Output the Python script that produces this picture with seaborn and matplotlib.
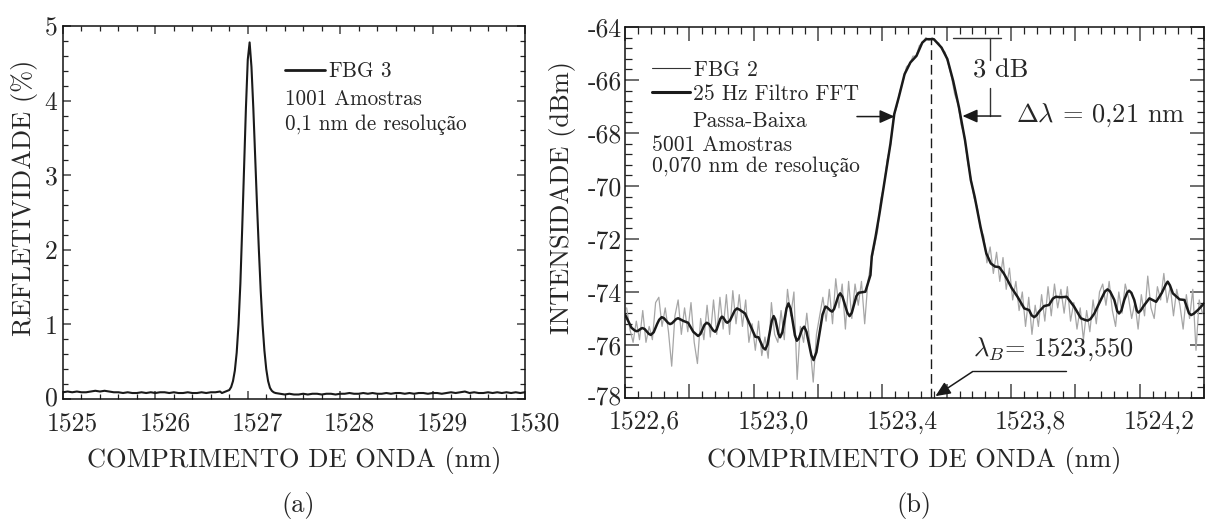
import numpy as np
import matplotlib
matplotlib.use("Agg")
import matplotlib.pyplot as plt
import matplotlib.transforms as mtransforms
from matplotlib.lines import Line2D
from matplotlib.ticker import MultipleLocator
import seaborn as sns

# --- (a) FBG 3: refletividade (%) ---
base_esq = [0.09, 0.10, 0.09, 0.10, 0.09, 0.09, 0.10, 0.11, 0.10, 0.11,
            0.10, 0.09, 0.09, 0.08, 0.09, 0.08, 0.08, 0.09, 0.08, 0.09,
            0.08, 0.09, 0.09, 0.08, 0.09, 0.08, 0.08, 0.09, 0.08, 0.08,
            0.09, 0.08, 0.09, 0.09, 0.10]
pico = [0.08, 0.09, 0.10, 0.11, 0.12, 0.16, 0.24, 0.38, 0.62, 1.00,
        1.55, 2.30, 3.10, 3.90, 4.55, 4.78, 4.45, 3.90, 3.25, 2.60,
        2.00, 1.45, 1.00, 0.65, 0.40, 0.24, 0.15, 0.11, 0.09, 0.08]
base_dir = [0.07, 0.06, 0.07, 0.06, 0.06, 0.07, 0.06, 0.07, 0.07, 0.06,
            0.07, 0.07, 0.06, 0.07, 0.07, 0.08, 0.07, 0.07, 0.08, 0.07,
            0.08, 0.07, 0.07, 0.08, 0.07, 0.08, 0.08, 0.07, 0.08, 0.07,
            0.08, 0.08, 0.07, 0.08, 0.08, 0.07, 0.08, 0.09, 0.08, 0.09,
            0.10, 0.08, 0.09, 0.08, 0.08, 0.09, 0.08, 0.09, 0.08, 0.09,
            0.08, 0.09, 0.08, 0.09]

refl_x = np.concatenate([np.linspace(1525.00, 1526.70, len(base_esq)),
                         np.linspace(1526.72, 1527.30, len(pico)),
                         np.linspace(1527.35, 1530.00, len(base_dir))])
refl_y = np.array(base_esq + pico + base_dir)

# --- (b) FBG 2: intensidade (dBm), sinal bruto ---
fbg2_bruto = [-74.6, -75.4, -75.9, -75.1, -75.8, -74.7, -75.9, -75.3, -75.8, -74.4,
              -74.2, -75.3, -74.6, -75.5, -76.8, -74.9, -74.3, -75.6, -74.6, -75.5,
              -74.4, -75.9, -76.7, -75.0, -75.8, -74.5, -75.7, -74.3, -75.6, -74.2,
              -75.4, -74.1, -75.6, -73.95, -75.2, -74.1, -75.3, -74.3, -75.9, -75.2,
              -76.2, -75.1, -76.4, -75.7, -76.5, -74.4, -75.6, -75.9, -74.7, -75.8,
              -73.9, -74.9, -74.0, -77.3, -75.3, -75.9, -74.8, -76.0, -77.4, -75.6,
              -74.9, -74.2, -75.1, -73.9, -75.2, -73.5, -74.6, -73.7, -75.4, -73.6,
              -75.0, -73.7, -74.5, -73.6, -75.2, -73.6, -72.9,
              -72.3, -71.7, -70.5, -70.0, -69.0, -68.5, -67.4, -67.0, -66.4, -66.0,
              -65.5, -65.4, -65.1, -65.1, -64.7, -64.6, -64.4, -64.5, -64.4, -64.55,
              -64.6, -64.85, -64.95, -65.4, -65.9, -66.55, -66.9, -67.7, -68.1, -69.1,
              -69.7, -70.45, -70.8, -71.6,
              -71.9, -72.9, -72.3, -73.3, -72.5, -73.6, -72.7, -73.9, -73.1, -74.3,
              -73.6, -74.7, -74.0, -75.3, -74.2, -75.6, -74.5, -75.3, -74.1, -75.1,
              -73.8, -74.9, -73.7, -74.6, -73.9, -74.8, -73.8, -75.1, -74.4, -75.4,
              -74.6, -75.8, -74.7, -75.5, -74.3, -75.2, -74.0, -73.7, -74.5, -73.6,
              -74.7, -75.3, -74.0, -74.8, -73.7, -74.2, -75.0, -74.4, -75.4, -74.1,
              -74.9, -73.4, -74.6, -75.0, -73.8, -74.3, -73.3, -74.4, -73.8, -74.9,
              -73.9, -74.5, -75.4, -74.1, -75.0, -73.9, -76.2, -74.3, -74.8]
fbg2_x = np.linspace(1522.605, 1524.395, len(fbg2_bruto))

# --- (b) filtro FFT passa-baixa 25 Hz: (comprimento de onda, dBm) ---
filtro_pts = [
    (1522.600, -74.85), (1522.620, -75.35), (1522.630, -75.45), (1522.636, -75.48),
    (1522.641, -75.46), (1522.650, -75.38), (1522.654, -75.36), (1522.661, -75.40),
    (1522.674, -75.58), (1522.680, -75.62), (1522.689, -75.52), (1522.700, -75.20),
    (1522.706, -75.05), (1522.714, -74.95), (1522.721, -74.99), (1522.734, -75.17),
    (1522.740, -75.21), (1522.746, -75.18), (1522.759, -75.02), (1522.765, -74.99),
    (1522.781, -75.09), (1522.796, -75.16), (1522.812, -75.50), (1522.827, -75.66),
    (1522.834, -75.59), (1522.847, -75.24), (1522.854, -75.16), (1522.861, -75.21),
    (1522.874, -75.45), (1522.880, -75.50), (1522.885, -75.41), (1522.896, -75.02),
    (1522.901, -74.93), (1522.905, -74.96), (1522.914, -75.13), (1522.918, -75.16),
    (1522.926, -75.08), (1522.941, -74.70), (1522.948, -74.62), (1522.955, -74.66),
    (1522.973, -74.81), (1523.005, -75.69), (1523.015, -75.71), (1523.029, -76.10),
    (1523.036, -76.17), (1523.043, -75.98), (1523.056, -75.10), (1523.062, -74.91),
    (1523.067, -75.03), (1523.077, -75.59), (1523.082, -75.71), (1523.089, -75.52),
    (1523.102, -74.62), (1523.108, -74.43), (1523.115, -74.64), (1523.128, -75.63),
    (1523.134, -75.84), (1523.140, -75.76), (1523.151, -75.39), (1523.157, -75.31),
    (1523.164, -75.50), (1523.179, -76.38), (1523.186, -76.57), (1523.195, -76.27),
    (1523.214, -74.85), (1523.223, -74.55), (1523.228, -74.58), (1523.239, -74.71),
    (1523.244, -74.74), (1523.250, -74.64), (1523.263, -74.15), (1523.269, -74.05),
    (1523.276, -74.18), (1523.291, -74.78), (1523.298, -74.91), (1523.305, -74.78),
    (1523.319, -74.16), (1523.326, -74.03), (1523.347, -73.99), (1523.363, -73.36),
    (1523.367, -72.66), (1523.379, -71.90), (1523.391, -71.04), (1523.409, -69.66),
    (1523.425, -68.41), (1523.437, -67.28), (1523.451, -66.65), (1523.469, -65.78),
    (1523.487, -65.34), (1523.506, -65.09), (1523.524, -64.59), (1523.536, -64.46),
    (1523.560, -64.46), (1523.584, -64.78), (1523.602, -65.21), (1523.620, -66.03),
    (1523.638, -67.03), (1523.657, -68.28), (1523.675, -69.78), (1523.687, -70.41),
    (1523.705, -71.54), (1523.723, -72.54), (1523.737, -72.92), (1523.750, -73.04),
    (1523.763, -73.06), (1523.777, -73.29), (1523.789, -73.55), (1523.802, -73.85),
    (1523.820, -74.18), (1523.841, -74.62), (1523.856, -74.68), (1523.864, -74.88),
    (1523.872, -74.95), (1523.880, -74.87), (1523.887, -74.74), (1523.903, -74.53),
    (1523.918, -74.49), (1523.930, -74.25), (1523.939, -74.18), (1523.955, -74.20),
    (1523.973, -74.18), (1523.996, -74.55), (1524.017, -74.99), (1524.029, -75.05),
    (1524.038, -75.08), (1524.047, -75.02), (1524.059, -74.81), (1524.079, -74.30),
    (1524.092, -73.98), (1524.100, -73.90), (1524.108, -73.98), (1524.121, -74.30),
    (1524.130, -74.72), (1524.136, -74.81), (1524.143, -74.70), (1524.152, -74.30),
    (1524.161, -74.02), (1524.167, -73.95), (1524.174, -74.03), (1524.183, -74.30),
    (1524.191, -74.70), (1524.196, -74.78), (1524.203, -74.70), (1524.212, -74.53),
    (1524.230, -74.24), (1524.251, -74.37), (1524.268, -74.05), (1524.281, -73.72),
    (1524.287, -73.61), (1524.294, -73.75), (1524.303, -74.05), (1524.324, -74.28),
    (1524.339, -74.30), (1524.353, -74.80), (1524.360, -74.87), (1524.368, -74.82),
    (1524.381, -74.68), (1524.400, -74.43),
]
filtro_x = [p[0] for p in filtro_pts]
filtro_y = [p[1] for p in filtro_pts]

xticks_a = [1525, 1526, 1527, 1528, 1529, 1530]
xlabels_a = ["1525", "1526", "1527", "1528", "1529", "1530"]
yticks_a = [0, 1, 2, 3, 4, 5]
xticks_b = [1522.6, 1522.8, 1523.0, 1523.2, 1523.4, 1523.6, 1523.8, 1524.0, 1524.2, 1524.4]
xlabels_b = ["1522,6", "", "1523,0", "", "1523,4", "", "1523,8", "", "1524,2", ""]
yticks_b = [-78, -76, -74, -72, -70, -68, -66, -64]
lambda_b = 1523.55

sns.set_style("ticks")
plt.rcParams["font.family"] = ["cmr10", "STIXGeneral", "DejaVu Serif"]
plt.rcParams["mathtext.fontset"] = "cm"
plt.rcParams["axes.unicode_minus"] = False
plt.rcParams["axes.linewidth"] = 1.1
plt.rcParams["axes.edgecolor"] = "#111111"

TICK_FS = 18.5
LAB_FS = 19
LEG_FS_A = 15.2
LEG_FS_B = 15.5

fig = plt.figure(figsize=(12.09, 5.21), dpi=100)
ax1 = fig.add_axes([0.0521, 0.2342, 0.3821, 0.7159])
ax2 = fig.add_axes([0.5170, 0.2361, 0.4789, 0.7121])

# --- painel (a) ---
sns.lineplot(x=refl_x, y=refl_y, ax=ax1, color="#1a1a1a", linewidth=1.5,
             estimator=None, sort=False)
ax1.set_xlim(1525, 1530)
ax1.set_ylim(0, 5)
ax1.set_xticks(xticks_a)
ax1.set_xticklabels(xlabels_a)
ax1.set_yticks(yticks_a)
ax1.set_yticklabels([str(v) for v in yticks_a])
ax1.xaxis.set_minor_locator(MultipleLocator(0.2))
ax1.yaxis.set_minor_locator(MultipleLocator(0.2))
ax1.tick_params(which="both", direction="in", top=True, right=True, labelsize=TICK_FS)
ax1.tick_params(which="major", length=6, width=1.2, color="#555555")
ax1.tick_params(which="minor", length=3.5, width=0.9, color="#222222")
ax1.tick_params(axis="x", which="major", pad=9)
ax1.tick_params(axis="y", which="major", pad=4)
ax1.set_xlabel("COMPRIMENTO DE ONDA (nm)", fontsize=LAB_FS)
ax1.set_ylabel("REFLETIVIDADE (%)", fontsize=LAB_FS)
ax1.xaxis.set_label_coords(0.5, -0.128)
ax1.yaxis.set_label_coords(-0.055, 0.54)

h1 = Line2D([], [], color="#1a1a1a", lw=2.0)
ax1.legend([h1], [r"FBG $\mathit{3}$"], loc="center left",
           bbox_to_anchor=(0.4805, 0.879), frameon=False, fontsize=LEG_FS_A,
           handlelength=1.9, handletextpad=0.15, borderpad=0, borderaxespad=0)
ax1.text(0.4805, 0.804, "1001 Amostras", transform=ax1.transAxes,
         fontsize=LEG_FS_A, va="center", ha="left")
ax1.text(0.4805, 0.735, "0,1 nm de resolução", transform=ax1.transAxes,
         fontsize=LEG_FS_A, va="center", ha="left")

# --- painel (b) ---
sns.lineplot(x=fbg2_x, y=fbg2_bruto, ax=ax2, color="#a6a6a6", linewidth=0.9,
             estimator=None, sort=False)
sns.lineplot(x=filtro_x, y=filtro_y, ax=ax2, color="#1a1a1a", linewidth=1.8,
             estimator=None, sort=False)
ax2.set_xlim(1522.6, 1524.4)
ax2.set_ylim(-78, -64)
ax2.set_xticks(xticks_b)
ax2.set_xticklabels(xlabels_b)
ax2.set_yticks(yticks_b)
ax2.set_yticklabels([str(v) for v in yticks_b])
ax2.xaxis.set_minor_locator(MultipleLocator(0.04))
ax2.yaxis.set_minor_locator(MultipleLocator(0.4))
ax2.tick_params(which="both", direction="in", top=True, right=True, labelsize=TICK_FS)
ax2.tick_params(which="major", length=10, width=1.2, color="#555555")
ax2.tick_params(which="minor", length=5, width=0.9, color="#222222")
ax2.tick_params(axis="x", which="major", pad=9)
ax2.tick_params(axis="y", which="major", pad=2)
ax2.set_xlabel("COMPRIMENTO DE ONDA (nm)", fontsize=LAB_FS)
ax2.set_ylabel("INTENSIDADE (dBm)", fontsize=LAB_FS)
ax2.xaxis.set_label_coords(0.5, -0.132)
ax2.yaxis.set_label_coords(-0.085, 0.54)

# deslocamento dos rótulos do eixo x como no original
for ax in (ax1, ax2):
    off = mtransforms.ScaledTranslation(-16 / 100, 0, fig.dpi_scale_trans)
    for lab in ax.get_xticklabels():
        lab.set_horizontalalignment("left")
        lab.set_transform(lab.get_transform() + off)
# o "0" do eixo y fica um pouco acima da base, como no original
for ax in (ax1, ax2):
    lab0 = ax.get_yticklabels()[0]
    lab0.set_transform(lab0.get_transform() +
                       mtransforms.ScaledTranslation(0, 3 / 100, fig.dpi_scale_trans))

h_bruto = Line2D([], [], color="#333333", lw=0.8)
h_filtro = Line2D([], [], color="#1a1a1a", lw=2.2)
ax2.legend([h_bruto, h_filtro], [r"FBG $\mathit{2}$", "25 Hz Filtro FFT"],
           loc="upper left", bbox_to_anchor=(0.0466, 0.91), frameon=False,
           fontsize=LEG_FS_B, handlelength=1.75, handletextpad=0.15, labelspacing=0.2,
           borderpad=0, borderaxespad=0)
ax2.text(0.1157, 0.7466, "Passa-Baixa", transform=ax2.transAxes,
         fontsize=LEG_FS_B, va="center", ha="left")
ax2.text(0.0466, 0.682, "5001 Amostras", transform=ax2.transAxes,
         fontsize=LEG_FS_B, va="center", ha="left")
ax2.text(0.0466, 0.6226, "0,070 nm de resolução", transform=ax2.transAxes,
         fontsize=LEG_FS_B, va="center", ha="left")

# linha do comprimento de onda de Bragg
ax2.plot([lambda_b, lambda_b], [-78, -64.45], color="#1a1a1a", lw=1.0,
         dashes=(7, 3.6))

# marcação de 3 dB e largura de banda
ax2.plot([1523.621, 1523.768], [-64.40, -64.40], color="#333333", lw=1.0)
ax2.plot([1523.734, 1523.734], [-64.40, -65.25], color="#333333", lw=1.0)
ax2.plot([1523.734, 1523.734], [-66.30, -67.36], color="#333333", lw=1.0)
ax2.text(1523.768, -65.65, "3 dB", fontsize=LAB_FS, ha="center", va="center")
arrow = dict(arrowstyle="-|>,head_length=0.9,head_width=0.4", color="#1a1a1a",
             lw=1.1, shrinkA=0, shrinkB=0)
ax2.annotate("", xy=(1523.649, -67.36), xytext=(1523.768, -67.36), arrowprops=arrow)
ax2.annotate("", xy=(1523.438, -67.38), xytext=(1523.321, -67.38), arrowprops=arrow)
ax2.text(1523.815, -67.32, r"$\Delta\lambda$ = 0,21 nm", fontsize=LAB_FS,
         ha="left", va="center")

# rótulo de lambda_B
ax2.plot([1523.681, 1523.970], [-77.0, -77.0], color="#1a1a1a", lw=1.0)
ax2.annotate("", xy=(1523.565, -77.93), xytext=(1523.681, -77.0), arrowprops=arrow)
ax2.text(1523.681, -76.15, r"$\lambda_B$= 1523,550", fontsize=LAB_FS,
         ha="left", va="center")

fig.text(0.2465, 0.029, "(a)", fontsize=LAB_FS, ha="center", va="center")
fig.text(0.756, 0.029, "(b)", fontsize=LAB_FS, ha="center", va="center")

fig.savefig("out.png", dpi=100)
